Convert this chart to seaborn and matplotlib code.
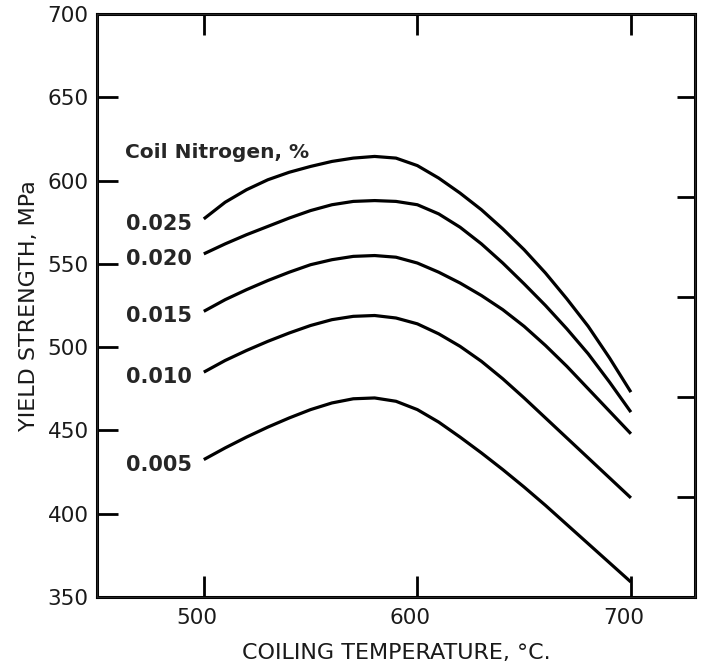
import numpy as np
import pandas as pd
import matplotlib
matplotlib.use("Agg")
import matplotlib.pyplot as plt
import matplotlib.transforms as mtransforms
import seaborn as sns

# coiling temperature (deg C) where the curves were read
temps = [500, 510, 520, 530, 540, 550, 560, 570, 580, 590, 600,
         610, 620, 630, 640, 650, 660, 670, 680, 690, 700]

# yield strength (MPa) for each coil nitrogen level
ys_0025 = [577, 587, 594.5, 600.5, 605, 608.5, 611.5, 613.5, 614.5, 613.5, 609,
           601.5, 592.5, 582.5, 571, 558.5, 544.5, 529, 512.5, 493.5, 473]
ys_0020 = [556, 562, 567.5, 572.5, 577.5, 582, 585.5, 587.5, 588, 587.5, 585.5,
           580, 572, 562, 550.5, 538, 525, 511, 496, 479, 461]
ys_0015 = [521.5, 528.5, 534.5, 540, 545, 549.5, 552.5, 554.5, 555, 554, 550.5,
           545, 538.5, 531, 522.5, 512.5, 501, 488.5, 475, 461.5, 448]
ys_0010 = [485, 492, 498, 503.5, 508.5, 513, 516.5, 518.5, 519, 517.5, 514,
           508, 500.5, 491.5, 481, 469.5, 457.5, 445.5, 433.5, 421.5, 409.5]
ys_0005 = [432.5, 439.5, 446, 452, 457.5, 462.5, 466.5, 469, 469.5, 467.5, 462.5,
           455, 446, 436.5, 426.5, 416, 405, 393.5, 382, 370.5, 359]

nitrogen = ["0.025", "0.020", "0.015", "0.010", "0.005"]
series = [ys_0025, ys_0020, ys_0015, ys_0010, ys_0005]

df = pd.concat(
    [pd.DataFrame({"temp": temps, "ys": s, "N": n}) for n, s in zip(nitrogen, series)],
    ignore_index=True,
)

sns.set_style("ticks")
plt.rcParams["font.family"] = ["DejaVu Sans"]

fig = plt.figure(figsize=(7.01, 6.68), dpi=100)
ax = fig.add_axes([0.1384, 0.1063, 0.8530, 0.8727])

sns.lineplot(data=df, x="temp", y="ys", hue="N", palette=["black"] * 5,
             linewidth=2.3, legend=False, ax=ax, sort=False,
             solid_joinstyle="round", solid_capstyle="butt")

ax.set_xlim(450, 730)
ax.set_ylim(350, 700)
ax.set_xticks([500, 600, 700])
ax.set_yticks([350, 400, 450, 500, 550, 600, 650, 700])
ax.tick_params(axis="both", direction="in", length=15, width=2, labelsize=15.5,
               color="black", labelcolor="#1a1a1a")
ax.tick_params(axis="x", top=True, pad=8)
ax.tick_params(axis="y", pad=6)
for sp in ax.spines.values():
    sp.set_visible(True)
    sp.set_linewidth(2.2)
    sp.set_color("black")

# x tick labels sit a little left of their ticks in the original
shift = mtransforms.ScaledTranslation(-7 / 100, 0, fig.dpi_scale_trans)
for lab in ax.get_xticklabels():
    lab.set_transform(lab.get_transform() + shift)

# right-hand ticks (secondary scale, unlabelled)
ax2 = ax.twinx()
ax2.set_ylim(350, 700)
ax2.set_yticks([410, 470, 530, 590, 650])
ax2.set_yticklabels([])
ax2.tick_params(axis="y", direction="in", length=13, width=2, color="black")

ax.set_xlabel("COILING TEMPERATURE, \u00b0C.", fontsize=16, color="#1a1a1a",
              labelpad=11)
ax.set_ylabel("YIELD STRENGTH, MPa", fontsize=16, color="#1a1a1a", labelpad=6)

ax.text(463, 617, "Coil Nitrogen, %", fontsize=14.5, fontweight="bold",
        ha="left", va="center")
for n, s in zip(nitrogen, series):
    ax.text(494.5, s[0] - 3, n, fontsize=15, fontweight="bold",
            ha="right", va="center")

fig.savefig("out.png", dpi=100)
